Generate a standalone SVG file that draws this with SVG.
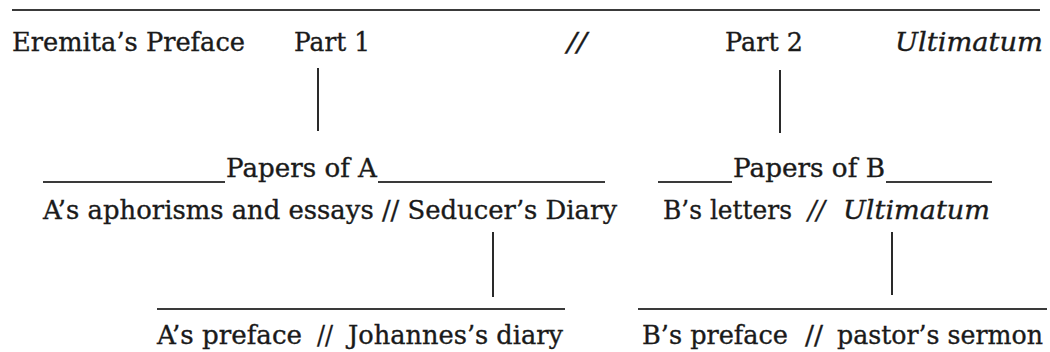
<svg xmlns="http://www.w3.org/2000/svg" width="1050" height="352" viewBox="0 0 1050 352">
<style>
text{font-family:"DejaVu Serif","Liberation Serif",serif;font-size:26px;fill:#1a1a1a;stroke:#1a1a1a;stroke-width:0.35}
.it{font-style:italic}
.rule{stroke:#3a3a3a;stroke-width:2;fill:none}
.conn{stroke:#2a2a2a;stroke-width:2;fill:none}
</style>
<rect width="1050" height="352" fill="#fff"/>
<g id="top-rule"><line class="rule" x1="12" y1="10" x2="1040" y2="10"/></g>
<g id="row1">
<g id="eremita"><text x="12" y="51" textLength="233" lengthAdjust="spacingAndGlyphs">Eremita’s Preface</text></g>
<g id="part1"><text x="294" y="51" textLength="76" lengthAdjust="spacingAndGlyphs">Part 1</text></g>
<g id="sep1"><text class="it" x="567" y="51" textLength="20" lengthAdjust="spacingAndGlyphs">//</text></g>
<g id="part2"><text x="725" y="51" textLength="78" lengthAdjust="spacingAndGlyphs">Part 2</text></g>
<g id="ultimatum-top"><text class="it" x="895" y="51" textLength="148" lengthAdjust="spacingAndGlyphs">Ultimatum</text></g>
</g>
<g id="papers-a">
<line class="rule" x1="43" y1="182" x2="225" y2="182"/>
<text x="226" y="177" textLength="151" lengthAdjust="spacingAndGlyphs">Papers of A</text>
<line class="rule" x1="378" y1="182" x2="605" y2="182"/>
<text x="43" y="219" textLength="574" lengthAdjust="spacingAndGlyphs">A’s aphorisms and essays // Seducer’s Diary</text>
</g>
<g id="papers-b">
<line class="rule" x1="658" y1="182" x2="732" y2="182"/>
<text x="733" y="177" textLength="152" lengthAdjust="spacingAndGlyphs">Papers of B</text>
<line class="rule" x1="886" y1="182" x2="992" y2="182"/>
<text x="663" y="219" textLength="129" lengthAdjust="spacingAndGlyphs">B’s letters</text>
<text class="it" x="808" y="219" textLength="17" lengthAdjust="spacingAndGlyphs">//</text>
<text class="it" x="843" y="219" textLength="147" lengthAdjust="spacingAndGlyphs">Ultimatum</text>
</g>
<g id="a-sub">
<line class="rule" x1="157" y1="309" x2="565" y2="309"/>
<text x="157" y="344" textLength="145" lengthAdjust="spacingAndGlyphs">A’s preface</text>
<text x="317" y="344" textLength="16" lengthAdjust="spacingAndGlyphs">//</text>
<text x="348" y="344" textLength="215" lengthAdjust="spacingAndGlyphs">Johannes’s diary</text>
</g>
<g id="b-sub">
<line class="rule" x1="638" y1="309" x2="1047" y2="309"/>
<text x="642" y="344" textLength="146" lengthAdjust="spacingAndGlyphs">B’s preface</text>
<text x="805" y="344" textLength="18" lengthAdjust="spacingAndGlyphs">//</text>
<text x="837" y="344" textLength="206" lengthAdjust="spacingAndGlyphs">pastor’s sermon</text>
</g>
<g id="connectors">
<line class="conn" x1="318" y1="68" x2="318" y2="131"/>
<line class="conn" x1="780" y1="70" x2="780" y2="133"/>
<line class="conn" x1="493" y1="232" x2="493" y2="297"/>
<line class="conn" x1="892" y1="232" x2="892" y2="295"/>
</g>
</svg>
